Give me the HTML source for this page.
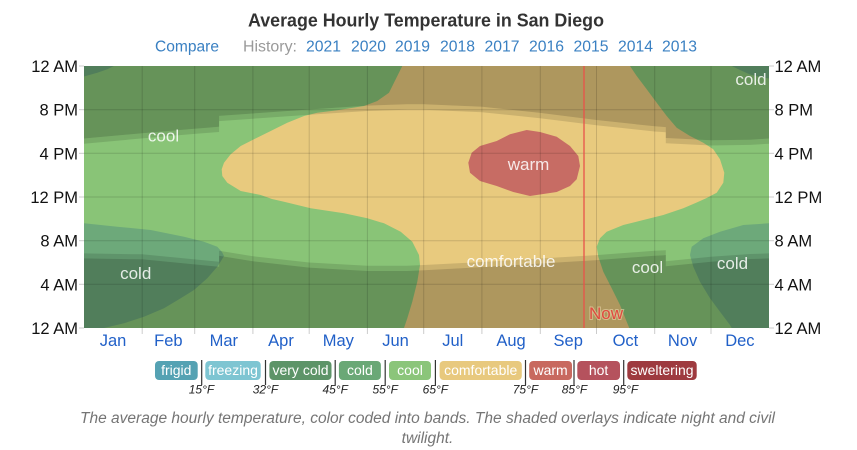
<!DOCTYPE html>
<html>
<head>
<meta charset="utf-8">
<style>
  html,body{margin:0;padding:0;background:#fff;}
  svg{display:block;}
  text{font-family:"Liberation Sans",Arial,sans-serif;}
</style>
</head>
<body>
<svg width="857" height="450" viewBox="0 0 857 450" xmlns="http://www.w3.org/2000/svg">
  <!-- Title -->
  <text x="426" y="26.5" text-anchor="middle" font-size="18" font-weight="bold" fill="#333" textLength="356" lengthAdjust="spacingAndGlyphs">Average Hourly Temperature in San Diego</text>
  <!-- Subtitle -->
  <g font-size="15.5" fill="#3a80c2">
    <text x="155" y="51.5" textLength="64" lengthAdjust="spacingAndGlyphs">Compare</text>
    <text x="243" y="51.5" fill="#9a9a9a" textLength="54" lengthAdjust="spacingAndGlyphs">History:</text>
    <text x="306" y="51.5" textLength="35" lengthAdjust="spacingAndGlyphs">2021</text>
    <text x="351" y="51.5" textLength="35" lengthAdjust="spacingAndGlyphs">2020</text>
    <text x="395" y="51.5" textLength="35" lengthAdjust="spacingAndGlyphs">2019</text>
    <text x="440" y="51.5" textLength="35" lengthAdjust="spacingAndGlyphs">2018</text>
    <text x="484.5" y="51.5" textLength="35" lengthAdjust="spacingAndGlyphs">2017</text>
    <text x="529" y="51.5" textLength="35" lengthAdjust="spacingAndGlyphs">2016</text>
    <text x="573.5" y="51.5" textLength="35" lengthAdjust="spacingAndGlyphs">2015</text>
    <text x="618" y="51.5" textLength="35" lengthAdjust="spacingAndGlyphs">2014</text>
    <text x="662" y="51.5" textLength="35" lengthAdjust="spacingAndGlyphs">2013</text>
  </g>

  <defs>
    <clipPath id="plot"><rect x="84" y="66" width="685" height="262"/></clipPath>
  </defs>

  <g clip-path="url(#plot)">
    <!-- base: cool -->
    <rect x="84" y="66" width="685" height="262" fill="#89c477"/>
    <!-- cold regions -->
    <g fill="#6da97a">
      <polygon points="84,66 114,66 107.3,69.3 97.3,72.7 84,76.5"/>
      <polygon points="731.7,66 769,66 769,78.5 760,77 750,74.5 740,70"/>
      <polygon points="84,223.3 117.3,226.7 150.7,230 184,236.7 204,241.7 217.3,246.7 222,252 224,256 221,261 217.3,266.7 207.3,278.3 194,290 180.7,298.3 164,308.3 144,316.7 124,323.3 104,328 84,328"/>
      <polygon points="769,223.3 743.3,225 720,231.7 703.3,238.3 691.7,246.7 690,255 693.3,266.7 700,281.7 710,298.3 720,311.7 730,325 731.7,328 769,328"/>
    </g>
    <!-- comfortable -->
    <polygon fill="#e8ca7e" points="402.3,66 630,66 636.7,76 646.7,89.3 656.7,102.7 666.7,116 676.7,127.7 690,136 703.3,142.7 713.3,149.3 720,159.3 724.3,172.7 723.3,182.7 716.7,192.7 706.7,198 696.7,202.5 683.3,208.3 663.3,215 643.3,220 623.3,225 606.7,231.7 600,238.3 596.7,246.7 598.3,256.7 603.3,271.7 611.7,288.3 620,305 626.7,321.7 629.3,328 404,328 407.3,318.3 412.3,301.7 417.3,281.7 420,265 419,255 412.3,241.7 400.7,231.7 384,223.3 367.3,218.3 344,213.3 310.7,208.3 284,201.7 272,199 260.7,195 240.7,191 227.3,182.7 222.3,176 221.7,169.3 224,162.7 230.7,154.3 240.7,146 254,139.3 270.7,131 287.3,122.7 304,116 317.3,112.7 337.3,110.3 364,106 377.3,101 389,92.7 395.7,79.3"/>
    <!-- warm -->
    <polygon fill="#c76c64" points="468.3,162.7 471.7,152.7 480,146 496.7,141 510,134.3 526.7,130 540,132 556.7,136.7 570,146 578.3,156 580,166 576.7,179.3 570,186 556.7,192 530,196 513.3,192 496.7,186 480,181 470,172.7"/>

    <!-- twilight overlays -->
    <g fill="#000" fill-opacity="0.12">
      <polygon points="84,138.5 142.2,133.2 194.7,128.7 219.1,126.8 219.1,115.9 252.9,113.5 309.2,109.5 367.4,105.6 406.8,104.3 423.7,104.3 481.9,106.8 540,112.9 596.3,120 654.5,126.3 665.8,127.1 665.8,138 710.8,140.3 750.2,139.7 769,138.5 769,143.7 750.2,144.9 710.8,145.5 665.8,143.2 665.8,132.3 654.5,131.5 596.3,125.2 540,118.2 481.9,112.2 423.7,109.7 406.8,109.7 367.4,111 309.2,114.8 252.9,118.7 219.1,121.1 219.1,132 194.7,133.9 142.2,138.4 84,143.7"/>
      <polygon points="84,253.4 142.2,254.3 194.7,259.4 219.1,261.7 219.1,250.8 252.9,256.2 309.2,262.5 367.4,265.8 406.8,265.8 423.7,265 481.9,262 540,258.5 596.3,255.1 654.5,250.8 665.8,250.3 665.8,261.2 710.8,256.7 750.2,254 769,253.4 769,258.4 750.2,259 710.8,261.7 665.8,266.2 665.8,255.3 654.5,255.8 596.3,260.1 540,263.5 481.9,267.1 423.7,270.2 406.8,271 367.4,271 309.2,267.6 252.9,261.2 219.1,255.8 219.1,266.7 194.7,264.4 142.2,259.3 84,258.4"/>
    </g>
    <!-- night overlays -->
    <g fill="#000" fill-opacity="0.25">
      <polygon points="84,66 769,66 769,138.5 750.2,139.7 710.8,140.3 665.8,138 665.8,127.1 654.5,126.3 596.3,120 540,112.9 481.9,106.8 423.7,104.3 406.8,104.3 367.4,105.6 309.2,109.5 252.9,113.5 219.1,115.9 219.1,126.8 194.7,128.7 142.2,133.2 84,138.5"/>
      <polygon points="84,328 769,328 769,258.4 750.2,259 710.8,261.7 665.8,266.2 665.8,255.3 654.5,255.8 596.3,260.1 540,263.5 481.9,267.1 423.7,270.2 406.8,271 367.4,271 309.2,267.6 252.9,261.2 219.1,255.8 219.1,266.7 194.7,264.4 142.2,259.3 84,258.4"/>
    </g>

    <!-- grid -->
    <g stroke="#000" stroke-opacity="0.14" stroke-width="1">
      <line x1="84" x2="769" y1="109.7" y2="109.7"/>
      <line x1="84" x2="769" y1="153.3" y2="153.3"/>
      <line x1="84" x2="769" y1="197" y2="197"/>
      <line x1="84" x2="769" y1="240.7" y2="240.7"/>
      <line x1="84" x2="769" y1="284.3" y2="284.3"/>
      <line x1="142.2" x2="142.2" y1="66" y2="328"/>
      <line x1="194.7" x2="194.7" y1="66" y2="328"/>
      <line x1="252.9" x2="252.9" y1="66" y2="328"/>
      <line x1="309.2" x2="309.2" y1="66" y2="328"/>
      <line x1="367.4" x2="367.4" y1="66" y2="328"/>
      <line x1="423.7" x2="423.7" y1="66" y2="328"/>
      <line x1="481.9" x2="481.9" y1="66" y2="328"/>
      <line x1="540.3" x2="540.3" y1="66" y2="328"/>
      <line x1="596.5" x2="596.5" y1="66" y2="328"/>
      <line x1="654.7" x2="654.7" y1="66" y2="328"/>
      <line x1="711" x2="711" y1="66" y2="328"/>
    </g>

    <!-- Now line -->
    <line x1="584" x2="584" y1="66" y2="328" stroke="#e8534a" stroke-width="1.3"/>

    <!-- region labels -->
    <g font-size="17" fill="#fff" fill-opacity="0.85" text-anchor="middle">
      <text x="163.5" y="141.5">cool</text>
      <text x="528.5" y="170">warm</text>
      <text x="751" y="85">cold</text>
      <text x="135.7" y="279">cold</text>
      <text x="511" y="267">comfortable</text>
      <text x="647.5" y="273">cool</text>
      <text x="732.5" y="269">cold</text>
    </g>
    <text x="589" y="319" font-size="17" fill="#e04a3f" stroke="#f0dcb0" stroke-opacity="0.55" stroke-width="2" paint-order="stroke" textLength="34" lengthAdjust="spacingAndGlyphs">Now</text>
  </g>

  <!-- axis ticks -->
  <g stroke="#cccccc" stroke-width="1">
    <line x1="79" x2="84" y1="66" y2="66"/>
    <line x1="79" x2="84" y1="109.7" y2="109.7"/>
    <line x1="79" x2="84" y1="153.3" y2="153.3"/>
    <line x1="79" x2="84" y1="197" y2="197"/>
    <line x1="79" x2="84" y1="240.7" y2="240.7"/>
    <line x1="79" x2="84" y1="284.3" y2="284.3"/>
    <line x1="79" x2="84" y1="328" y2="328"/>
    <line x1="769" x2="774" y1="66" y2="66"/>
    <line x1="769" x2="774" y1="109.7" y2="109.7"/>
    <line x1="769" x2="774" y1="153.3" y2="153.3"/>
    <line x1="769" x2="774" y1="197" y2="197"/>
    <line x1="769" x2="774" y1="240.7" y2="240.7"/>
    <line x1="769" x2="774" y1="284.3" y2="284.3"/>
    <line x1="769" x2="774" y1="328" y2="328"/>
    <line x1="142.2" x2="142.2" y1="328" y2="334"/>
    <line x1="194.7" x2="194.7" y1="328" y2="334"/>
    <line x1="252.9" x2="252.9" y1="328" y2="334"/>
    <line x1="309.2" x2="309.2" y1="328" y2="334"/>
    <line x1="367.4" x2="367.4" y1="328" y2="334"/>
    <line x1="423.7" x2="423.7" y1="328" y2="334"/>
    <line x1="481.9" x2="481.9" y1="328" y2="334"/>
    <line x1="540.3" x2="540.3" y1="328" y2="334"/>
    <line x1="596.5" x2="596.5" y1="328" y2="334"/>
    <line x1="654.7" x2="654.7" y1="328" y2="334"/>
    <line x1="711" x2="711" y1="328" y2="334"/>
  </g>

  <!-- Y axis labels -->
  <g font-size="16.5" fill="#111" text-anchor="end">
    <text x="78" y="72">12 AM</text>
    <text x="78" y="115.7">8 PM</text>
    <text x="78" y="159.3">4 PM</text>
    <text x="78" y="203">12 PM</text>
    <text x="78" y="246.7">8 AM</text>
    <text x="78" y="290.3">4 AM</text>
    <text x="78" y="334">12 AM</text>
  </g>
  <g font-size="16.5" fill="#111">
    <text x="774.5" y="72">12 AM</text>
    <text x="774.5" y="115.7">8 PM</text>
    <text x="774.5" y="159.3">4 PM</text>
    <text x="774.5" y="203">12 PM</text>
    <text x="774.5" y="246.7">8 AM</text>
    <text x="774.5" y="290.3">4 AM</text>
    <text x="774.5" y="334">12 AM</text>
  </g>

  <!-- Month labels -->
  <g font-size="16.5" fill="#2160c8" text-anchor="middle">
    <text x="113" y="346">Jan</text>
    <text x="168.4" y="346">Feb</text>
    <text x="223.8" y="346">Mar</text>
    <text x="281" y="346">Apr</text>
    <text x="338.3" y="346">May</text>
    <text x="395.5" y="346">Jun</text>
    <text x="452.8" y="346">Jul</text>
    <text x="511" y="346">Aug</text>
    <text x="568.2" y="346">Sep</text>
    <text x="625.4" y="346">Oct</text>
    <text x="682.6" y="346">Nov</text>
    <text x="739.9" y="346">Dec</text>
  </g>

  <!-- Legend -->
  <g>
    <rect x="155" y="361" width="42.7" height="19" rx="4" fill="#55a2b3"/>
    <rect x="205.3" y="361" width="55.4" height="19" rx="4" fill="#7ec5d2"/>
    <rect x="269.4" y="361" width="62.1" height="19" rx="4" fill="#5d9468"/>
    <rect x="338.9" y="361" width="42" height="19" rx="4" fill="#6aa876"/>
    <rect x="389" y="361" width="42" height="19" rx="4" fill="#8bc57a"/>
    <rect x="439.6" y="361" width="82.2" height="19" rx="4" fill="#e8c97e"/>
    <rect x="529.2" y="361" width="42.8" height="19" rx="4" fill="#c8695f"/>
    <rect x="577.3" y="361" width="42.7" height="19" rx="4" fill="#b5525d"/>
    <rect x="627.3" y="361" width="69.4" height="19" rx="4" fill="#9e3a3f"/>
  </g>
  <g font-size="14" fill="#fff" text-anchor="middle">
    <text x="176.3" y="375">frigid</text>
    <text x="233" y="375">freezing</text>
    <text x="300.5" y="375">very cold</text>
    <text x="359.9" y="375">cold</text>
    <text x="410" y="375">cool</text>
    <text x="480.7" y="375">comfortable</text>
    <text x="550.6" y="375">warm</text>
    <text x="598.6" y="375">hot</text>
    <text x="662" y="375">sweltering</text>
  </g>
  <g stroke="#333" stroke-width="1.2">
    <line x1="201.7" x2="201.7" y1="360" y2="385"/>
    <line x1="265.5" x2="265.5" y1="360" y2="385"/>
    <line x1="335.2" x2="335.2" y1="360" y2="385"/>
    <line x1="385.2" x2="385.2" y1="360" y2="385"/>
    <line x1="435.4" x2="435.4" y1="360" y2="385"/>
    <line x1="525.5" x2="525.5" y1="360" y2="385"/>
    <line x1="574" x2="574" y1="360" y2="385"/>
    <line x1="623.7" x2="623.7" y1="360" y2="385"/>
  </g>
  <g font-size="12" font-style="italic" fill="#222" text-anchor="middle">
    <text x="201.5" y="393.5">15°F</text>
    <text x="265.5" y="393.5">32°F</text>
    <text x="335.2" y="393.5">45°F</text>
    <text x="385.2" y="393.5">55°F</text>
    <text x="435.4" y="393.5">65°F</text>
    <text x="525.5" y="393.5">75°F</text>
    <text x="574.5" y="393.5">85°F</text>
    <text x="625.5" y="393.5">95°F</text>
  </g>

  <!-- Caption -->
  <g font-size="15.5" font-style="italic" fill="#757575" text-anchor="middle">
    <text x="427.5" y="423" textLength="695" lengthAdjust="spacingAndGlyphs">The average hourly temperature, color coded into bands. The shaded overlays indicate night and civil</text>
    <text x="427.5" y="443">twilight.</text>
  </g>
</svg>
</body>
</html>
